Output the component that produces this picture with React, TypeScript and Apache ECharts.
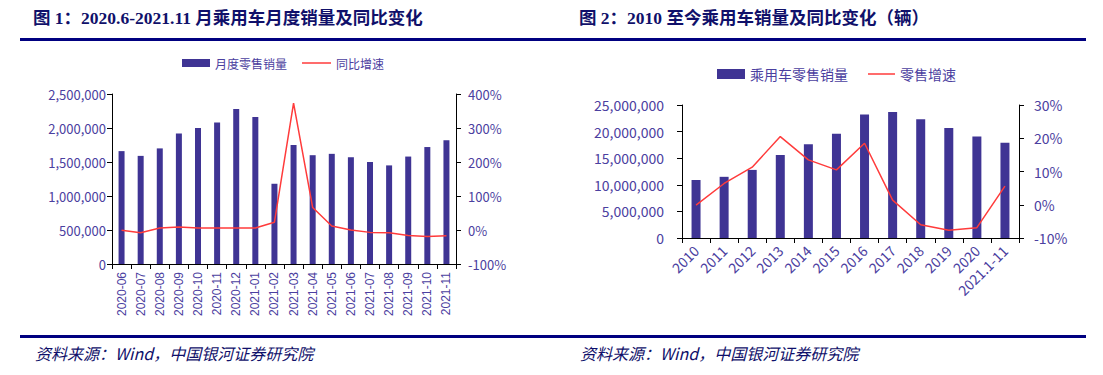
import React, { useEffect, useRef } from "react";
import * as echarts from "echarts";

const months = ["2020-06","2020-07","2020-08","2020-09","2020-10","2020-11","2020-12","2021-01","2021-02","2021-03","2021-04","2021-05","2021-06","2021-07","2021-08","2021-09","2021-10","2021-11"];
const monthlySales = [1660000,1590000,1700000,1920000,2000000,2080000,2280000,2160000,1180000,1750000,1600000,1620000,1570000,1500000,1450000,1580000,1720000,1820000];
const monthlyYoY = [-1,-8,6,9,6,6,6,6,23,373,66,12,0,-7,-8,-16,-19,-17];

const years = ["2010","2011","2012","2013","2014","2015","2016","2017","2018","2019","2020","2021.1-11"];
const yearlySales = [10900000,11500000,12800000,15600000,17600000,19600000,23200000,23700000,22300000,20700000,19100000,17900000];
const yearlyYoY = [-0.1,6.4,11.3,20.5,13.5,10.5,18.5,1.4,-6,-7.7,-6.9,5.6];

const title1 = "图 1：2020.6-2021.11 月乘用车月度销量及同比变化";
const title2 = "图 2：2010 至今乘用车销量及同比变化（辆）";
const sourceText = "资料来源：Wind，中国银河证券研究院";

const BAR = "#3f3494";
const RED = "#ff3b3b";
const LABEL = "#4b40a0";
const NAVY = "#000080";
const FONT = '"Noto Sans CJK SC", "Noto Sans", sans-serif';

export default function App() {
  const ref = useRef<HTMLDivElement>(null);
  useEffect(() => {
    document.body.style.margin = "0";
    const chart = echarts.init(ref.current!, null, { renderer: "svg" });
    const fmtNum = (v: number) => v.toLocaleString("en-US");
    const axisLine = { show: true, lineStyle: { color: "#000", width: 1 } };
    const axisTick = { show: true, length: 5, lineStyle: { color: "#000" } };
    const legendText1 = { color: LABEL, fontSize: 12, fontFamily: FONT };
    const legendText2 = { color: LABEL, fontSize: 14, fontFamily: FONT };
    const titleFont = 'bold 17.5px "Liberation Serif", "Noto Sans CJK SC", serif';
    const srcFont = 'italic 16px "Noto Sans CJK SC", sans-serif';
    chart.setOption({
      animation: false,
      backgroundColor: "#fff",
      textStyle: { fontFamily: FONT },
      grid: [
        { left: 112, top: 94, width: 344, height: 170 },
        { left: 682, top: 105, width: 337, height: 133 },
      ],
      legend: [
        { left: 177, top: 52, itemWidth: 28, itemHeight: 8, textStyle: legendText1, data: [{ name: "月度零售销量", icon: "rect" }] },
        { left: 297, top: 52, itemWidth: 29, itemHeight: 1.5, textStyle: legendText1, data: [{ name: "同比增速", icon: "rect" }] },
        { left: 712, top: 62, itemWidth: 28, itemHeight: 10, textStyle: legendText2, data: [{ name: "乘用车零售销量", icon: "rect" }] },
        { left: 863, top: 62, itemWidth: 27, itemHeight: 1.5, textStyle: legendText2, data: [{ name: "零售增速", icon: "rect" }] },
      ],
      xAxis: [
        {
          type: "category", gridIndex: 0, data: months, boundaryGap: true,
          axisLine, axisTick: { ...axisTick, alignWithLabel: false },
          axisLabel: { rotate: 90, color: LABEL, fontSize: 12, margin: 8, fontFamily: '"Liberation Sans", Arial, sans-serif', interval: 0 },
          splitLine: { show: false },
        },
        {
          type: "category", gridIndex: 1, data: years, boundaryGap: true,
          axisLine, axisTick: { ...axisTick, alignWithLabel: false },
          axisLabel: { rotate: 45, color: LABEL, fontSize: 14, margin: 10, interval: 0 },
          splitLine: { show: false },
        },
      ],
      yAxis: [
        {
          type: "value", gridIndex: 0, min: 0, max: 2500000, interval: 500000,
          axisLine, axisTick, splitLine: { show: false },
          axisLabel: { color: LABEL, fontSize: 13, margin: 6, formatter: fmtNum },
        },
        {
          type: "value", gridIndex: 0, position: "right", min: -100, max: 400, interval: 100,
          axisLine, axisTick, splitLine: { show: false },
          axisLabel: { color: LABEL, fontSize: 13, margin: 12, formatter: (v: number) => v + "%" },
        },
        {
          type: "value", gridIndex: 1, min: 0, max: 25000000, interval: 5000000,
          axisLine, axisTick, splitLine: { show: false },
          axisLabel: { color: LABEL, fontSize: 14, margin: 18, formatter: fmtNum },
        },
        {
          type: "value", gridIndex: 1, position: "right", min: -10, max: 30, interval: 10,
          axisLine, axisTick, splitLine: { show: false },
          axisLabel: { color: LABEL, fontSize: 14, margin: 15, formatter: (v: number) => v + "%" },
        },
      ],
      series: [
        { name: "月度零售销量", type: "bar", xAxisIndex: 0, yAxisIndex: 0, data: monthlySales, barWidth: 6, itemStyle: { color: BAR } },
        { name: "同比增速", type: "line", xAxisIndex: 0, yAxisIndex: 1, data: monthlyYoY, symbol: "none", lineStyle: { color: RED, width: 1.5 }, itemStyle: { color: RED } },
        { name: "乘用车零售销量", type: "bar", xAxisIndex: 1, yAxisIndex: 2, data: yearlySales, barWidth: 9, itemStyle: { color: BAR } },
        { name: "零售增速", type: "line", xAxisIndex: 1, yAxisIndex: 3, data: yearlyYoY, symbol: "none", lineStyle: { color: RED, width: 1.5 }, itemStyle: { color: RED } },
      ],
      graphic: [
        { type: "text", left: 33, top: 9, style: { text: title1, fill: "#10106a", font: titleFont } },
        { type: "text", left: 579, top: 9, style: { text: title2, fill: "#10106a", font: titleFont } },
        { type: "rect", shape: { x: 20, y: 38, width: 1066, height: 3 }, style: { fill: NAVY } },
        { type: "rect", shape: { x: 20, y: 335, width: 1066, height: 3 }, style: { fill: NAVY } },
        { type: "text", left: 35, top: 345, style: { text: sourceText, fill: "#10106a", font: srcFont } },
        { type: "text", left: 580, top: 345, style: { text: sourceText, fill: "#10106a", font: srcFont } },
      ],
    });
    return () => chart.dispose();
  }, []);
  return <div ref={ref} style={{ position: "absolute", left: 0, top: 0, width: 1103, height: 375 }} />;
}
